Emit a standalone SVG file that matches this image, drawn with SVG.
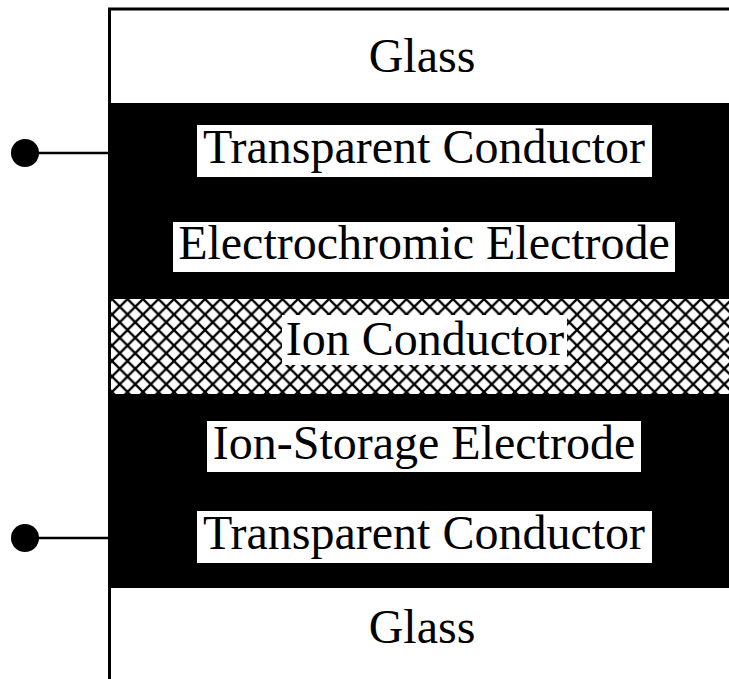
<svg xmlns="http://www.w3.org/2000/svg" width="729" height="679" viewBox="0 0 729 679">
<style>
.lbl{font-family:"Liberation Serif","Times New Roman",serif;font-size:48px;fill:#000;text-anchor:middle}
.box{fill:#fff}
.dark{fill:#000}
.lead{stroke:#000;stroke-width:2.5;fill:none}
</style>
<defs>
<pattern id="hatch" patternUnits="userSpaceOnUse" x="112" y="299" width="15.5" height="15.5">
<rect width="15.5" height="15.5" fill="#fff"/>
<path d="M-1,-1 L16.5,16.5 M16.5,-1 L-1,16.5" stroke="#000" stroke-width="2.3"/>
</pattern>
</defs>
<rect x="0" y="0" width="729" height="679" fill="#fff"/>
<g id="glass-top">
<rect x="109" y="9" width="620" height="94" fill="#fff"/>
<text class="lbl" x="422" y="72">Glass</text>
</g>
<g id="transparent-conductor-top">
<rect class="dark" x="109" y="103" width="620" height="98"/>
<rect class="box" x="197" y="125" width="455" height="52"/>
<text class="lbl" x="424" y="163">Transparent Conductor</text>
</g>
<g id="electrochromic-electrode">
<rect class="dark" x="109" y="200" width="620" height="99"/>
<rect class="box" x="173" y="222" width="502" height="50"/>
<text class="lbl" x="424" y="259">Electrochromic Electrode</text>
</g>
<g id="ion-conductor">
<rect x="109" y="299" width="620" height="95" fill="url(#hatch)"/>
<rect class="box" x="282" y="315" width="285" height="50"/>
<text class="lbl" x="425" y="355">Ion Conductor</text>
</g>
<g id="ion-storage-electrode">
<rect class="dark" x="109" y="394" width="620" height="97"/>
<rect class="box" x="207" y="421" width="434" height="51"/>
<text class="lbl" x="424" y="459">Ion-Storage Electrode</text>
</g>
<g id="transparent-conductor-bottom">
<rect class="dark" x="109" y="490" width="620" height="98"/>
<rect class="box" x="197" y="511" width="455" height="52"/>
<text class="lbl" x="424" y="549">Transparent Conductor</text>
</g>
<g id="glass-bottom">
<rect x="109" y="588" width="620" height="91" fill="#fff"/>
<text class="lbl" x="422" y="643">Glass</text>
</g>
<g id="frame">
<path d="M109.5,679 L109.5,9 L729,9" fill="none" stroke="#000" stroke-width="3"/>
</g>
<g id="connectors">
<line class="lead" x1="25" y1="153" x2="109" y2="153"/>
<circle cx="25" cy="153" r="14" fill="#000"/>
<line class="lead" x1="25" y1="538" x2="109" y2="538"/>
<circle cx="25" cy="538" r="14" fill="#000"/>
</g>
</svg>
